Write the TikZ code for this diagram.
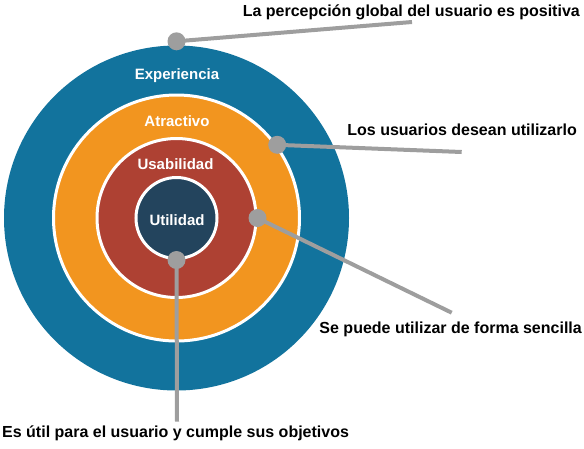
\documentclass[tikz,border=0pt]{standalone}
\usepackage{fontspec}
\setmainfont{Liberation Sans}
\usepackage{tikz}
\usetikzlibrary{positioning,calc}

\definecolor{expblue}{HTML}{12739D}
\definecolor{atrorange}{HTML}{F2951F}
\definecolor{usared}{HTML}{AE4133}
\definecolor{utinavy}{HTML}{23445D}
\definecolor{pingray}{HTML}{9E9E9E}

\begin{document}
\begin{tikzpicture}[x=1pt,y=-1pt,
  ring/.style={circle, inner sep=0pt, draw=white, line width=3pt},
  ringtext/.style={text=white, font=\fontsize{15}{18}\selectfont\bfseries, anchor=base, inner sep=0pt},
  pin/.style={circle, fill=pingray, minimum size=18pt, inner sep=0pt},
  pinline/.style={draw=pingray, line width=4pt},
  note/.style={font=\fontsize{16}{19}\selectfont\bfseries, inner sep=0pt}]
  \useasboundingbox (0,0) rectangle (584,448);

  % Rings
  \node[circle, inner sep=0pt, fill=expblue, minimum size=345pt] (exp) at (176.5,218) {};
  \node[ring, fill=atrorange, minimum size=246pt] (atr) at (176.5,218) {};
  \node[ring, fill=usared, minimum size=159pt] (usa) at (176.5,218) {};
  \node[ring, fill=utinavy, minimum size=81pt] (uti) at (176.5,218) {};

  % Ring labels
  \node[ringtext] (lexp) at (177,79) {Experiencia};
  \node[ringtext] (latr) at (177,126.7) {Atractivo};
  \node[ringtext] (lusa) at (175.5,169) {Usabilidad};
  \node[ringtext] (luti) at (177,225) {Utilidad};

  % Notes
  \node[note, anchor=base east] (nexp) at (580,16) {La percepción global del usuario es positiva};
  \node[note, anchor=base east] (natr) at (577,135) {Los usuarios desean utilizarlo};
  \node[note, anchor=base east] (nusa) at (582,333) {Se puede utilizar de forma sencilla};
  \node[note, anchor=base west] (nuti) at (2,437.7) {Es útil para el usuario y cumple sus objetivos};

  % Line ends
  \coordinate (eexp) at (412,22);
  \coordinate (eatr) at (461.7,152);
  \coordinate (eusa) at (451.7,312.7);
  \coordinate (euti) at (177,421.7);

  % Pins
  \node[pin, yshift=4pt] (pexp) at (exp.north) {};
  \node[pin] (patr) at (atr.36) {};
  \node[pin] (pusa) at (usa.0) {};
  \node[pin] (puti) at (uti.south) {};

  \draw[pinline] (pexp.center) -- (eexp);
  \draw[pinline] (patr.center) -- (eatr);
  \draw[pinline] (pusa.center) -- (eusa);
  \draw[pinline] (puti.center) -- (euti);
\end{tikzpicture}
\end{document}
